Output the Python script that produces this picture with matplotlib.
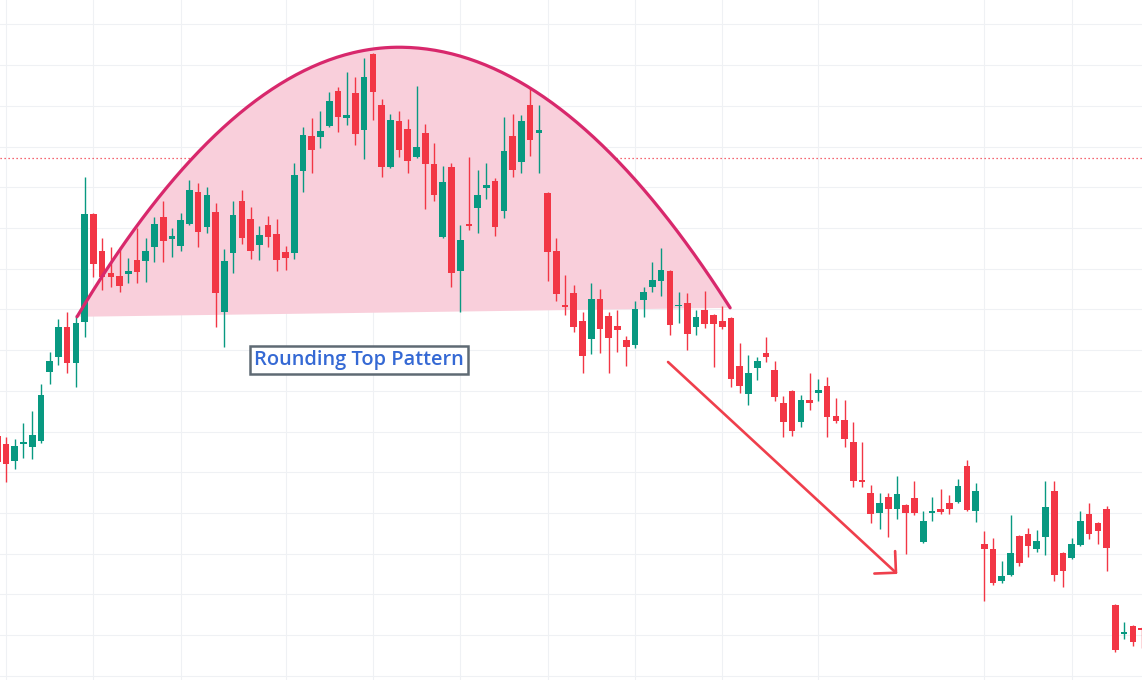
import numpy as np
import matplotlib
matplotlib.use("Agg")
import matplotlib.pyplot as plt

# ---------------- data (OHLC) ----------------
opens = [129.5, 128.5, 126.4, 128.5, 128.1, 128.8, 137.3, 139.2, 142.8, 138.4,
         143.5, 156.7, 152.2, 149.5, 149.1, 149.4, 151.1, 150.9, 152.7, 156.4,
         153.7, 152.8, 155.5, 159.4, 155.1, 157.0, 144.7, 151.9, 158.3, 156.1,
         152.9, 155.4, 154.3, 152.1, 151.9, 162.0, 166.3, 166.2, 167.5, 171.8,
         168.5, 171.6, 167.0, 176.4, 170.1, 162.5, 168.1, 167.2, 163.7, 166.7,
         162.9, 153.9, 162.5, 149.7, 155.5, 157.5, 159.9, 160.8, 157.1, 166.3,
         163.1, 170.1, 166.7, 159.3, 152.2, 145.5, 147.0, 143.6, 141.4, 146.3,
         144.2, 143.0, 141.3, 140.6, 146.2, 147.8, 148.5, 149.7, 145.4, 145.8,
         142.8, 144.9, 144.3, 143.6, 144.0, 138.1, 134.6, 137.8, 139.7, 137.6,
         133.5, 135.0, 131.2, 133.9, 134.7, 135.6, 131.9, 131.4, 128.7, 124.1,
         122.5, 120.0, 122.0, 120.5, 121.0, 121.9, 116.4, 120.0, 120.5, 121.2,
         121.4, 125.8, 120.3, 116.2, 115.6, 111.7, 112.4, 117.2, 117.4, 115.6,
         117.1, 122.7, 115.1, 114.5, 116.1, 119.9, 118.8, 120.5, 108.7, 105.2,
         106.1, 105.9]
highs = [130.2, 129.3, 129.1, 131.1, 132.5, 135.8, 139.8, 143.8, 144.7, 144.3,
         161.3, 156.8, 153.8, 152.7, 152.7, 151.3, 155.0, 153.8, 156.4, 158.3,
         155.0, 156.8, 160.9, 160.5, 160.0, 158.1, 152.4, 158.3, 159.7, 157.6,
         155.3, 156.5, 156.1, 152.8, 163.0, 167.4, 168.5, 169.4, 171.7, 172.3,
         174.2, 173.5, 175.9, 176.5, 170.8, 169.0, 169.4, 168.4, 172.4, 167.8,
         165.4, 162.6, 163.0, 155.4, 163.7, 162.1, 163.0, 161.1, 168.6, 169.0,
         168.9, 172.3, 170.1, 159.4, 153.8, 149.2, 148.0, 144.7, 148.3, 147.5,
         144.7, 144.9, 141.7, 146.0, 147.8, 150.8, 152.5, 149.8, 147.1, 147.0,
         144.9, 147.3, 144.4, 145.4, 144.1, 140.9, 139.4, 139.2, 141.6, 138.7,
         134.4, 135.1, 134.5, 137.2, 136.5, 136.7, 134.1, 133.9, 131.2, 128.7,
         123.4, 122.5, 122.5, 124.6, 121.1, 123.9, 120.3, 122.0, 123.0, 122.2,
         124.2, 126.5, 123.7, 117.8, 116.9, 114.1, 119.8, 117.3, 118.2, 117.9,
         123.9, 123.9, 115.2, 116.9, 120.3, 121.2, 118.9, 120.9, 108.8, 106.6,
         106.2, 106.0]
lows = [124.3, 123.8, 125.4, 126.8, 126.6, 128.6, 135.8, 138.2, 137.2, 135.5,
        141.6, 149.0, 147.4, 147.8, 147.1, 148.3, 148.3, 148.4, 150.8, 150.8,
        151.4, 152.2, 155.4, 152.7, 154.4, 142.8, 140.4, 149.5, 153.0, 151.2,
        151.1, 152.7, 149.7, 149.8, 151.2, 159.4, 161.8, 164.8, 167.4, 166.8,
        167.7, 165.2, 163.5, 168.3, 161.3, 162.4, 163.7, 161.8, 163.6, 157.3,
        158.3, 153.8, 147.8, 144.7, 154.8, 154.4, 158.6, 154.0, 156.2, 161.3,
        161.8, 163.8, 161.8, 148.5, 146.0, 144.3, 142.2, 137.2, 139.5, 139.7,
        137.2, 139.8, 138.1, 140.3, 144.1, 147.1, 146.7, 141.9, 143.3, 140.0,
        141.9, 142.7, 137.9, 142.6, 135.5, 134.7, 133.3, 136.3, 138.6, 133.8,
        129.3, 129.5, 130.6, 132.7, 133.8, 129.3, 131.1, 128.1, 123.2, 123.2,
        118.8, 118.0, 117.1, 119.3, 115.0, 119.8, 116.3, 119.0, 119.9, 119.9,
        121.2, 120.3, 118.9, 109.2, 111.2, 111.4, 112.3, 113.5, 114.6, 115.2,
        114.9, 111.7, 110.9, 114.4, 116.0, 116.8, 116.2, 112.9, 102.9, 104.5,
        103.7, 103.4]
closes = [126.3, 126.0, 128.2, 128.6, 129.6, 134.5, 138.7, 142.8, 138.4, 143.3,
          156.7, 150.6, 149.0, 149.0, 147.9, 149.7, 149.6, 152.2, 155.5, 153.4,
          154.0, 156.0, 159.7, 154.5, 159.1, 147.0, 151.0, 156.6, 153.8, 152.2,
          154.1, 153.9, 151.1, 151.3, 161.5, 166.4, 164.6, 166.9, 170.6, 168.6,
          168.9, 166.5, 173.5, 171.7, 162.5, 168.3, 164.6, 163.2, 165.0, 162.9,
          159.1, 160.7, 149.5, 153.5, 155.3, 159.1, 160.3, 155.1, 164.5, 162.1,
          168.1, 165.8, 167.0, 152.1, 146.9, 145.3, 142.8, 139.3, 146.3, 142.6,
          141.5, 142.5, 140.4, 145.1, 147.1, 148.6, 149.8, 143.1, 145.6, 142.0,
          144.1, 143.2, 143.2, 142.8, 136.5, 135.6, 137.2, 138.7, 139.2, 134.3,
          131.2, 130.1, 133.9, 133.5, 135.1, 131.8, 131.3, 129.1, 123.9, 123.8,
          119.9, 121.2, 120.5, 122.3, 120.0, 120.0, 119.0, 120.1, 120.1, 120.5,
          123.3, 120.4, 122.7, 115.6, 111.4, 112.3, 115.1, 113.9, 116.0, 116.6,
          120.7, 112.4, 112.9, 116.2, 119.0, 117.4, 117.8, 115.7, 103.2, 105.3,
          104.2, 105.7]

grid_x = [1, 11, 21, 33, 43, 53, 63, 73, 83, 94, 113, 123]   # bar positions of date lines
grid_y = [100, 105, 110, 115, 120, 125, 130, 135, 140, 145, 150, 155, 160, 165, 170, 175, 180]
ref_level = 163.6
label_text = "Rounding Top Pattern"

# drawing anchors (bar position, price)
arc_start = (9.13, 144.1)
arc_peak = (46.0, 177.2)
arc_end = (83.9, 145.2)
label_pos = (41.39, 138.75)
arrow_from = (76.79, 138.55)
arrow_to = (103.04, 112.52)

UP = "#089981"
DOWN = "#f23645"

# ---------------- figure ----------------
fig = plt.figure(figsize=(11.42, 6.80), dpi=100)
ax = fig.add_axes([0, 0, 1, 1])
ax.set_xlim(0.313, 131.05)
ax.set_ylim(99.5, 183.0)
ax.axis("off")

for gx in grid_x:
    ax.axvline(gx, color="#eff1f4", lw=0.8, zorder=0)
for gy in grid_y:
    ax.axhline(gy, color="#eff1f4", lw=0.8, zorder=0)

ax.axhline(ref_level, color="#f23645", lw=0.9, ls=(0, (1, 2.2)), zorder=1)

# rounding top arc
xl = np.linspace(arc_start[0], arc_peak[0], 120)
yl = arc_peak[1] - (arc_peak[1] - arc_start[1]) * ((xl - arc_peak[0]) / (arc_start[0] - arc_peak[0])) ** 2
xr = np.linspace(arc_peak[0], arc_end[0], 120)
yr = arc_peak[1] - (arc_peak[1] - arc_end[1]) * ((xr - arc_peak[0]) / (arc_end[0] - arc_peak[0])) ** 2
cx = np.concatenate([xl, xr[1:]])
cy = np.concatenate([yl, yr[1:]])
ax.fill(cx, cy, color="#f9cfdb", lw=0, zorder=1)
ax.plot(cx, cy, color="#d8286c", lw=2.3, zorder=5, solid_capstyle="round")

# candles
o = np.array(opens)
h = np.array(highs)
l = np.array(lows)
c = np.array(closes)
x = np.arange(len(o))
cols = [UP if cc >= oo else DOWN for oo, cc in zip(o, c)]
ax.vlines(x, l, h, colors=cols, lw=1.0, zorder=3)
bottoms = np.minimum(o, c)
heights = np.maximum(np.abs(c - o), 0.2)
ax.bar(x, heights, bottom=bottoms, width=0.76, color=cols, lw=0, zorder=4)

# label
ax.text(label_pos[0], label_pos[1], label_text, ha="center", va="center",
        fontsize=14.4, color="#3569d4", family=["Open Sans", "DejaVu Sans"],
        fontweight="semibold", zorder=6,
        bbox=dict(boxstyle="square,pad=0.2", fc="white", ec="#5f6a74", lw=1.8))

# arrow
ax.annotate("", xy=arrow_to, xytext=arrow_from,
            arrowprops=dict(arrowstyle="->,head_length=1.1,head_width=1.1",
                            color="#ef3f4c", lw=1.9, mutation_scale=10,
                            shrinkA=0, shrinkB=0),
            zorder=6)

fig.savefig("out.png", dpi=100, facecolor="white")
